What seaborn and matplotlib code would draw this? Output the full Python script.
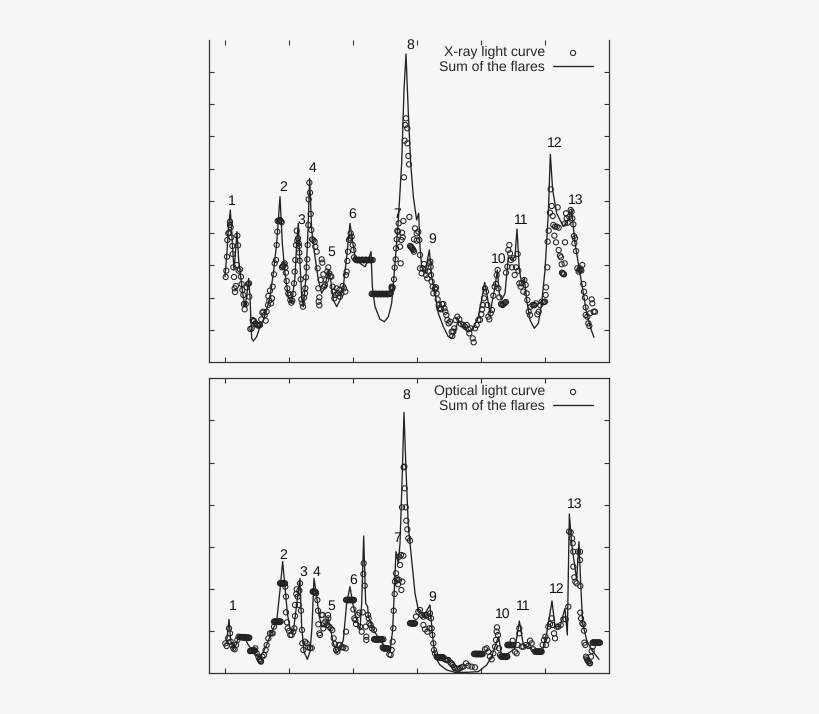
import numpy as np
import pandas as pd
import matplotlib
matplotlib.use("Agg")
import matplotlib.pyplot as plt
import seaborn as sns

# time is in arbitrary units, flux in arbitrary units (the axes carry no numbers)
x_ticks = [75, 267, 459, 651, 843, 1035]
xray_yticks = [96, 193, 290, 386, 483, 580, 677, 774, 871]
optical_yticks = [126, 252, 379, 505, 631, 759]

xray_line = [(75,256),(80,316),(85,396),(91,456),(97,356),(102,276),(107,336),(111,391),(116,306),(122,256),
    (128,206),(135,166),(141,206),(146,251),(150,196),(155,71),(160,63),(170,76),(180,106),(190,126),
    (200,156),(210,196),(220,266),(230,356),(240,496),(247,356),(255,266),(265,196),(275,176),(285,256),
    (290,356),(295,416),(300,296),(305,196),(310,166),(318,256),(324,396),(329,551),(335,396),(345,316),
    (355,246),(365,206),(375,226),(385,276),(392,246),(400,186),(410,166),(420,186),(430,226),(440,316),
    (450,416),(457,366),(465,316),(480,296),(495,286),(505,306),(513,331),(517,226),(525,166),(540,128),
    (553,121),(565,136),(575,176),(585,296),(595,426),(605,596),(612,816),(618,924),(625,746),(632,596),
    (640,496),(650,426),(656,446),(660,346),(665,286),(675,266),(688,336),(695,256),(705,206),(715,146),
    (730,106),(745,76),(755,71),(765,91),(775,126),(790,106),(805,91),(820,101),(835,136),(845,186),
    (854,239),(862,196),(870,146),(885,226),(892,276),(898,206),(905,186),(915,206),(925,316),(935,306),
    (945,316),(951,399),(958,276),(965,236),(973,251),(980,186),(990,126),(1003,101),(1015,116),(1025,176),
    (1035,276),(1045,446),(1051,623),(1058,516),(1070,446),(1090,406),(1105,426),(1115,456),(1125,356),
    (1140,266),(1150,206),(1160,146),(1172,101),(1182,74)]

xray_points = [(77,255),(79,274),(81,316),(82,366),(85,386),(88,388),(90,411),(90,421),(92,404),(94,374),
    (97,348),(98,324),(100,284),(102,255),(104,221),(105,210),(108,228),(110,291),(112,379),(114,350),
    (116,274),(120,278),(123,256),(125,234),(127,216),(130,201),(132,174),(134,158),(137,174),(140,224),
    (144,234),(147,236),(148,196),(151,99),(155,101),(158,126),(162,123),(166,116),(170,113),(175,109),
    (180,111),(184,128),(187,148),(190,151),(194,141),(197,124),(200,151),(204,171),(205,198),(208,184),
    (210,214),(213,176),(216,191),(218,226),(222,263),(224,296),(228,306),(230,351),(232,391),(236,424),
    (240,426),(245,419),(246,284),(250,288),(254,296),(256,284),(258,268),(260,243),(262,221),(265,206),
    (268,201),(271,186),(274,178),(277,184),(280,204),(282,236),(284,271),(286,306),(288,351),(290,394),
    (292,364),(294,371),(296,356),(297,348),(298,328),(299,304),(302,248),(304,188),(307,176),(309,166),
    (312,193),(315,206),(316,221),(318,254),(320,284),(322,308),(323,351),(325,411),(326,488),(330,508),
    (328,538),(332,444),(334,396),(336,368),(340,366),(344,361),(346,346),(350,331),(353,281),(355,221),
    (358,194),(356,181),(358,170),(362,246),(365,308),(367,298),(370,263),(372,226),(375,231),(378,246),
    (382,271),(385,284),(388,266),(391,258),(394,256),(398,226),(401,211),(403,191),(406,201),(410,221),
    (414,206),(418,216),(420,196),(424,206),(428,228),(432,221),(436,211),(438,261),(440,271),(442,303),
    (444,331),(447,366),(450,371),(452,386),(455,376),(458,351),(460,336),(462,314),(466,308),
    (470,306),(475,306),(480,306),(485,306),(490,306),(495,306),(500,306),(505,306),(510,306),(515,306),(518,306),
    (515,204),(520,204),(525,204),(530,204),(535,204),(540,204),(545,204),(550,204),(555,204),(560,204),(565,204),(570,204),
    (575,226),(578,224),(582,248),(584,283),(587,308),(588,341),(590,368),(592,394),(594,391),(596,416),
    (600,346),(602,296),(604,366),(606,388),(608,374),(610,423),(612,554),(614,664),(616,711),(618,731),
    (622,701),(622,656),(625,618),(627,593),(628,435),(630,348),(633,346),(636,341),(640,336),(642,331),
    (645,401),(650,386),(655,391),(642,368),(650,364),(658,366),(660,321),(660,281),(665,266),(668,281),
    (672,294),(675,276),(678,261),(682,251),(685,271),(688,296),(691,301),(692,286),(693,261),(695,241),
    (698,226),(700,206),(705,221),(708,224),(710,206),(713,188),(716,171),(718,161),(722,158),(726,174),
    (730,174),(733,161),(736,151),(739,141),(742,126),(746,116),(750,121),(755,91),(757,78),(760,91),
    (763,101),(767,126),(772,136),(778,128),(783,114),(790,111),(795,106),(800,111),(805,98),(808,86),
    (812,101),(818,71),(821,59),(825,101),(830,111),(835,126),(840,126),(844,143),(846,158),(848,171),
    (852,191),(855,221),(858,211),(862,171),(865,136),(868,128),(872,146),(876,156),(880,199),(884,226),
    (888,234),(890,261),(893,276),(895,221),(898,194),(903,174),(908,171),(913,176),(918,180),(918,268),
    (922,286),(925,336),(928,351),(930,326),(933,306),(936,284),(940,311),(944,261),(948,284),(953,324),
    (955,274),(958,236),(962,226),(965,236),(970,211),(973,246),(977,231),(980,206),(982,186),(986,151),
    (990,141),(992,166),(998,171),(1003,171),(1008,176),(1012,143),(1016,151),(1020,171),(1025,181),(1030,179),
    (1035,181),(1038,224),(1037,201),(1042,284),(1043,361),(1046,394),(1050,448),(1052,518),(1055,468),(1058,438),
    (1060,411),(1065,406),(1070,406),(1076,403),(1063,379),(1068,359),(1073,464),(1076,336),(1080,319),(1083,314),
    (1085,293),(1088,266),(1092,263),(1095,359),(1094,296),(1095,416),(1098,446),(1100,431),(1103,418),(1108,436),
    (1112,456),(1115,451),(1117,431),(1120,413),(1122,378),(1125,371),(1123,356),(1128,333),(1132,281),(1136,271),
    (1140,281),(1144,274),(1147,291),(1150,234),(1152,211),(1155,193),(1157,164),(1157,141),(1162,136),(1165,116),
    (1168,108),(1170,146),(1175,188),(1177,176),(1181,151),(1185,151)]

# tightly sampled stretches of the X-ray curve, where the circles merge
xray_dense = [(468,307),(472,305),(477,307),(482,305),(487,307),(492,305),(497,307),(502,305),(507,307),(512,305),
    (517,205),(522,203),(527,205),(532,203),(537,205),(542,203),(547,205),(552,203),(557,205),(562,203),(567,205),(572,206),
    (238,425),(243,422),(248,287),(252,292),(575,222),(576,218),(634,344),(638,339),(905,173),(910,174),(915,178),
    (1090,264),(1086,268),(233,423),(160,122),(172,111),(178,110),(706,218),(723,160),(1002,170),(1032,180),(1138,276),(1142,277)]

optical_line = [(75,87),(80,94),(87,161),(92,99),(100,71),(108,84),(115,107),(125,114),(135,104),(145,84),
    (160,64),(175,49),(185,54),(200,84),(215,124),(230,154),(240,249),(248,334),(255,259),(262,179),
    (270,134),(280,124),(288,189),(293,229),(300,284),(305,139),(312,64),(322,41),(330,64),(336,139),
    (342,284),(350,229),(358,169),(365,139),(375,139),(385,164),(392,129),(400,89),(410,61),(420,69),
    (430,99),(440,209),(450,259),(458,209),(470,159),(480,129),(485,209),(491,411),(497,209),(503,199),
    (505,169),(520,129),(540,99),(555,79),(570,64),(578,129),(585,299),(588,364),(595,329),(600,389),
    (606,569),(612,782),(618,609),(625,439),(635,339),(645,239),(655,189),(670,169),(690,204),(697,119),
    (705,49),(720,24),(740,9),(765,2),(800,2),(835,4),(860,24),(875,49),(890,94),(896,109),(905,49),
    (925,59),(945,74),(958,156),(970,84),(985,79),(1005,64),(1025,59),(1040,119),(1056,216),(1065,139),
    (1080,139),(1095,194),(1102,114),(1108,477),(1116,379),(1130,279),(1137,394),(1142,269),(1148,149),
    (1160,99),(1175,69),(1197,41)]

optical_points = [(76,89),(80,81),(84,104),(87,134),(90,119),(92,94),(96,84),(100,74),(104,71),(108,84),
    (112,99),(116,109),(120,108),(124,108),(128,107),(132,107),(136,107),(140,106),(144,106),(148,106),
    (150,66),(154,67),(158,67),(162,67),(165,67),(166,74),(170,59),(175,49),(180,39),(183,34),(187,49),
    (192,54),(197,69),(200,84),(205,104),(210,119),(215,119),(218,119),(222,139),(222,154),(226,154),
    (230,154),(234,154),(238,154),(242,154),(240,269),(244,269),(248,269),(252,269),(255,269),(256,259),
    (258,229),(258,182),(261,152),(263,134),(267,126),(271,114),(275,114),(280,124),(283,134),(285,171),
    (285,204),(289,237),(290,251),(293,229),(296,204),(298,247),(300,269),(303,187),(306,129),(307,89),
    (310,69),(315,94),(320,89),(325,77),(330,75),(335,75),(338,244),(341,244),(345,244),(348,239),(352,219),
    (354,187),(355,146),(358,119),(360,114),(365,174),(368,174),(370,134),(372,149),(376,154),(380,144),
    (384,174),(385,164),(388,139),(392,134),(397,129),(401,104),(404,87),(408,69),(412,64),(416,84),
    (420,84),(425,77),(430,77),(437,74),(438,124),(438,219),(442,219),(446,219),(450,219),(454,219),
    (458,219),(462,219),(460,191),(463,164),(466,159),(468,147),(473,174),(478,181),(480,139),(485,124),
    (488,182),(490,297),(491,329),(494,262),(497,139),(499,109),(499,99),(504,174),(506,164),(508,149),
    (512,144),(516,134),(522,129),(522,101),(526,101),(530,101),(534,101),(538,101),(542,101),(546,101),
    (550,101),(548,77),(552,74),(556,74),(560,74),(565,74),(568,56),(572,54),(575,69),(578,94),(580,134),
    (581,187),(584,237),(585,274),(588,299),(590,284),(592,279),(594,266),(597,279),(600,324),(598,349),
    (603,354),(604,249),(607,274),(610,352),(606,497),(611,617),(613,619),(614,554),(617,497),(619,457),
    (622,431),(625,404),(630,397),(630,149),(634,149),(638,149),(642,149),(645,149),(648,169),(655,184),
    (660,189),(665,174),(670,169),(675,174),(680,174),(670,144),(675,131),(682,124),(685,169),(690,179),
    (693,164),(688,134),(695,134),(697,114),(700,89),(702,69),(705,59),(710,49),(712,47),(716,47),(720,47),
    (724,47),(728,47),(730,47),(735,41),(745,39),(752,31),(758,24),(765,14),(775,12),(785,17),(790,19),
    (798,29),(805,22),(815,19),(825,17),(822,57),(826,57),(830,57),(834,57),(838,57),(842,57),(846,57),
    (848,57),(855,71),(860,74),(865,64),(870,49),(875,41),(880,59),(885,79),(888,99),(890,124),(891,137),
    (894,114),(897,74),(900,54),(903,49),(907,49),(911,49),(915,49),(919,49),(922,49),(922,84),(925,84),
    (929,84),(933,84),(937,84),(940,84),(938,97),(945,64),(950,59),(953,84),(958,119),(958,134),(965,79),
    (970,79),(978,84),(985,81),(990,97),(995,89),(1000,71),(1005,64),(1009,64),(1013,64),(1017,64),(1021,64),
    (1025,64),(1028,84),(1032,99),(1036,109),(1038,84),(1042,99),(1045,139),(1050,147),(1055,164),(1058,144),
    (1062,119),(1065,104),(1070,139),(1075,139),(1082,144),(1090,161),(1097,161),(1105,199),(1107,424),
    (1112,422),(1116,404),(1118,389),(1120,364),(1120,319),(1123,287),(1126,274),(1130,269),(1134,364),
    (1140,364),(1140,339),(1141,261),(1141,181),(1143,164),(1147,149),(1150,146),(1152,127),(1153,91),
    (1156,84),(1158,49),(1162,39),(1166,34),(1170,29),(1173,49),(1175,66),(1178,79),(1178,91),(1182,91),
    (1186,91),(1190,91),(1194,91),(1198,91),(1200,91)]

# same idea for the optical curve
optical_dense = [(122,107),(126,108),(130,106),(134,108),(138,106),(142,107),(146,105),(152,66),(156,68),(160,66),(163,68),
    (224,155),(228,153),(232,155),(236,153),(240,155),(242,270),(246,268),(250,270),(254,268),(340,245),(343,243),(347,243),
    (440,220),(444,218),(448,220),(452,218),(456,220),(460,218),(524,102),(528,100),(532,102),(536,100),(540,102),(544,100),
    (550,75),(554,73),(558,75),(562,73),(632,150),(636,148),(640,150),(644,148),(714,48),(718,46),(722,48),(726,46),
    (729,45),(738,40),(742,38),(755,28),(762,18),(770,13),(780,15),(824,58),(828,56),(832,58),(836,56),(840,58),(844,56),
    (905,50),(909,48),(913,50),(917,48),(921,50),(924,85),(927,83),(931,85),(935,83),(1007,65),(1011,63),(1015,65),(1019,63),(1023,65),
    (1160,44),(1164,36),(1168,30),(1180,92),(1184,90),(1188,92),(1192,90),(1196,92),(182,36),(178,42)]

flare_names = ["1", "2", "3", "4", "5", "6", "7", "8", "9", "10", "11", "12", "13"]
xray_label_x = [94, 249, 304, 337, 395, 458, 591, 631, 697, 896, 963, 1064, 1128]
xray_label_y = [483, 523, 426, 580, 329, 444, 444, 949, 368, 309, 425, 657, 484]
optical_label_x = [97, 249, 310, 350, 395, 460, 591, 620, 698, 908, 969, 1070, 1124]
optical_label_y = [201, 353, 302, 302, 201, 278, 404, 834, 227, 176, 201, 252, 505]

sns.set_style("ticks")
bg = "#f6f6f6"
ink = "#222222"
plt.rcParams['font.family'] = ['Liberation Sans', 'DejaVu Sans']
plt.rcParams['text.hinting'] = 'no_hinting'
plt.rcParams['text.hinting_factor'] = 1

fig = plt.figure(figsize=(8.2, 7.14), dpi=100, facecolor=bg)
ax_top = fig.add_axes([209 / 820, 1 - 362 / 714, 400 / 820, 322 / 714])
ax_bot = fig.add_axes([209 / 820, 1 - 673 / 714, 400 / 820, 295 / 714])


def draw_panel(ax, line, points, label_x, label_y, yticks, ymax, point_name, legend_top):
    line_df = pd.DataFrame(line, columns=["time", "flux"])
    point_df = pd.DataFrame(points, columns=["time", "flux"])
    sns.lineplot(data=line_df, x="time", y="flux", ax=ax, color=ink, lw=0.95, sort=False,
                 estimator=None, label="Sum of the flares")
    sns.scatterplot(data=point_df, x="time", y="flux", ax=ax, marker="o", s=14, facecolors="none",
                    edgecolor=ink, linewidth=0.75, label=point_name)
    for name, tx, ty in zip(flare_names, label_x, label_y):
        ax.text(tx, ty, name, ha="center", va="center", fontsize=10, color="#111111")
    ax.set_xlim(27, 1227)
    ax.set_ylim(0, ymax)
    ax.set_xticks(x_ticks)
    ax.set_yticks(yticks)
    ax.tick_params(which="both", direction="in", length=3.6, width=0.8, color="#333333",
                   top=True, right=True, labelbottom=False, labelleft=False)
    ax.set_xlabel("")
    ax.set_ylabel("")
    ax.set_facecolor(bg)
    for spine in ax.spines.values():
        spine.set_color("#333333")
        spine.set_linewidth(0.9)
    handles, labels = ax.get_legend_handles_labels()
    ax.legend(handles[::-1], labels[::-1], loc="upper right", frameon=False, markerfirst=False,
              fontsize=9.9, labelspacing=0.12, handlelength=2.9, handletextpad=0.6,
              borderaxespad=0.0, borderpad=0.0, bbox_to_anchor=(0.96, legend_top))


draw_panel(ax_top, xray_line, xray_points + xray_dense, xray_label_x, xray_label_y, xray_yticks, 966,
           "X-ray light curve", 0.98)
draw_panel(ax_bot, optical_line, optical_points + optical_dense, optical_label_x, optical_label_y, optical_yticks, 885,
           "Optical light curve", 0.975)
ax_top.spines["top"].set_visible(False)

fig.savefig("out.png", dpi=100, facecolor=bg)
